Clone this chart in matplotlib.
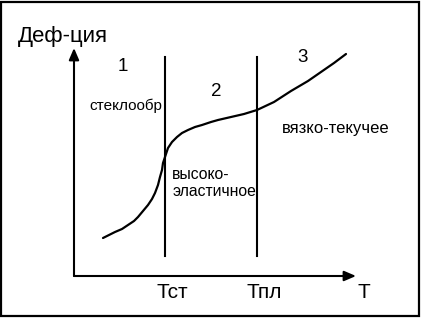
import matplotlib.pyplot as plt
from matplotlib.patches import Rectangle

plt.rcParams['font.family'] = ['Liberation Sans', 'DejaVu Sans']

# curve: temperature vs deformation (arbitrary units, origin at axes corner)
T = [29, 35, 41, 48, 54, 60, 64, 69, 74, 78, 81, 84, 86, 88, 89, 90, 91, 92, 93,
     94, 96, 98, 100, 103, 108, 114, 121, 128, 137, 144, 157, 170, 183, 200,
     217, 234, 247, 260, 272]
D = [38, 41, 44, 47, 51, 55, 59, 65, 71, 77, 83, 91, 99, 106, 113, 116, 119, 122,
     125, 128, 131, 134, 136, 139, 143, 146, 149, 151, 154, 156, 159, 162, 166,
     174, 185, 195, 204, 213, 222]

T_glass = 91     # Тст
T_melt = 183     # Тпл
line_bottom, line_top = 20, 219
x_max, y_max = 282, 228

region_nums = ['1', '2', '3']
region_pos = [(48.5, 205), (142, 180), (228.5, 214)]
state_labels = ['стеклообр', 'высоко-', 'эластичное', 'вязко-текучее']
state_pos = [(15.3, 166), (98.3, 96.7), (98.3, 80), (207.7, 143)]
state_sizes = [11, 11.3, 11.3, 12]
tick_labels = ['Тст', 'Тпл', 'Т']
tick_pos = [T_glass + 7, T_melt + 7, 290]

fig = plt.figure(figsize=(4.22, 3.18), dpi=100)
ax = fig.add_axes([0, 0, 1, 1])
ax.set_xlim(-74, 348)
ax.set_ylim(-42, 276)
ax.axis('off')

# frame around whole picture
fig.patches.append(Rectangle((0.002, 0.006), 0.99, 0.988, transform=fig.transFigure,
                             fill=False, edgecolor='black', linewidth=1.6))

arrow = dict(arrowstyle='-|>,head_length=0.7,head_width=0.3', lw=1.5,
             color='black', shrinkA=0, shrinkB=0)
ax.annotate('', xy=(0, y_max), xytext=(0, 0), arrowprops=arrow)
ax.annotate('', xy=(x_max, 0), xytext=(0, 0), arrowprops=arrow)

ax.plot([T_glass, T_glass], [line_bottom, line_top], color='black', lw=1.5)
ax.plot([T_melt, T_melt], [line_bottom, line_top], color='black', lw=1.5)
ax.plot(T, D, color='black', lw=1.6, solid_joinstyle='round', solid_capstyle='round')

ax.text(-55.7, 234.3, 'Деф-ция', fontsize=16, va='baseline', ha='left')
for s, (x, y) in zip(region_nums, region_pos):
    ax.text(x, y, s, fontsize=13.5, ha='center', va='baseline')
for s, (x, y), fs in zip(state_labels, state_pos, state_sizes):
    ax.text(x, y, s, fontsize=fs, ha='left', va='baseline')
for s, x in zip(tick_labels, tick_pos):
    ax.text(x, -22, s, fontsize=15, ha='center', va='baseline')

fig.savefig('out.png', dpi=100)
